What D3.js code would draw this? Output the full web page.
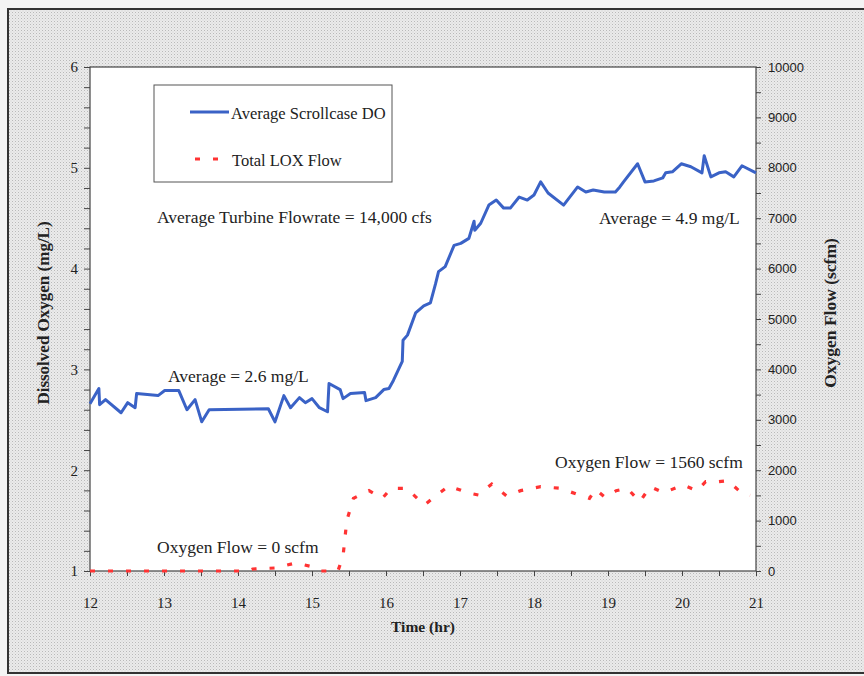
<!DOCTYPE html>
<html><head><meta charset="utf-8">
<script src="https://cdn.jsdelivr.net/npm/d3@7/dist/d3.min.js"></script>
<style>body{margin:0;background:#fff;}svg{display:block;}</style>
</head><body>
<script>
// ---- data ----
const doTime = [12.00,12.12,12.13,12.21,12.42,12.51,12.61,12.63,12.92,13.01,13.20,13.31,13.42,13.51,13.61,14.41,14.50,14.62,14.71,14.83,14.91,15.00,15.10,15.21,15.23,15.38,15.42,15.52,15.71,15.73,15.86,15.97,16.04,16.10,16.22,16.23,16.29,16.40,16.51,16.60,16.67,16.71,16.80,16.92,17.01,17.12,17.19,17.20,17.28,17.39,17.49,17.59,17.68,17.80,17.91,18.00,18.09,18.19,18.40,18.59,18.70,18.80,18.95,19.10,19.16,19.21,19.40,19.50,19.62,19.74,19.78,19.87,19.99,20.12,20.27,20.30,20.39,20.50,20.59,20.70,20.81,21.00];
const doValue = [2.66,2.81,2.65,2.70,2.57,2.67,2.62,2.76,2.74,2.79,2.79,2.60,2.70,2.48,2.60,2.61,2.48,2.74,2.62,2.72,2.67,2.71,2.62,2.58,2.86,2.80,2.71,2.76,2.77,2.69,2.72,2.80,2.81,2.89,3.08,3.29,3.34,3.56,3.63,3.66,3.85,3.97,4.02,4.23,4.25,4.30,4.47,4.38,4.45,4.63,4.68,4.60,4.60,4.71,4.68,4.73,4.86,4.75,4.63,4.81,4.76,4.78,4.76,4.76,4.81,4.86,5.04,4.86,4.87,4.90,4.95,4.96,5.04,5.01,4.95,5.12,4.91,4.95,4.96,4.91,5.02,4.95];

const loxTime = [12.00,12.50,13.00,13.50,14.00,14.14,14.20,14.50,14.78,15.00,15.10,15.35,15.42,15.47,15.56,15.77,15.95,16.07,16.28,16.34,16.52,16.67,16.85,17.10,17.25,17.43,17.63,17.82,18.09,18.36,18.57,18.75,18.83,18.96,19.11,19.26,19.43,19.57,19.75,20.02,20.20,20.32,20.50,20.62,20.80,20.92];
const loxValue = [0,0,0,0,0,0,40,60,160,85,0,0,300,1000,1442,1594,1442,1640,1640,1554,1310,1488,1687,1554,1508,1726,1488,1594,1673,1640,1528,1442,1620,1462,1594,1640,1375,1673,1554,1706,1594,1772,1772,1792,1554,1500];

const xTicks = [12,13,14,15,16,17,18,19,20,21];
const yLeftTicks = [1,2,3,4,5,6];
const yRightTicks = [0,1000,2000,3000,4000,5000,6000,7000,8000,9000,10000];

// ---- layout ----
const W = 864, H = 676;
const L = 90, R = 756, T = 67, B = 571;
const serif = "'Liberation Serif','Times New Roman',serif";

const svg = d3.select("body").append("svg").attr("width", W).attr("height", H);
const defs = svg.append("defs");
const pat = defs.append("pattern").attr("id","dots").attr("width",3).attr("height",3).attr("patternUnits","userSpaceOnUse");
pat.append("rect").attr("width",3).attr("height",3).attr("fill","#ebebeb");
pat.append("rect").attr("x",0).attr("y",0).attr("width",1).attr("height",1).attr("fill","#b9b9b9");
pat.append("rect").attr("x",1.5).attr("y",1.5).attr("width",1).attr("height",1).attr("fill","#d0d0d0");

svg.append("rect").attr("width",W).attr("height",H).attr("fill","#f4f4f4");
svg.append("rect").attr("x",8).attr("y",9).attr("width",W).attr("height",664).attr("fill","url(#dots)")
  .attr("stroke","#333").attr("stroke-width",2);

const x = d3.scaleLinear().domain([12,21]).range([L,R]);
const yL = d3.scaleLinear().domain([1,6]).range([B,T]);
const yR = d3.scaleLinear().domain([0,10000]).range([B,T]);

svg.append("rect").attr("x",L).attr("y",T).attr("width",R-L).attr("height",B-T)
  .attr("fill","#fff").attr("stroke","#444").attr("stroke-width",1.2);

// axes
function styleAxis(g){
  g.select(".domain").remove();
  g.selectAll("line").attr("stroke","#444");
  g.selectAll("text").attr("font-family",serif).attr("fill","#222");
}
const gx = svg.append("g").attr("transform",`translate(0,${B})`)
  .call(d3.axisBottom(x).tickValues(d3.range(12,21.01,0.5)).tickSize(5).tickFormat(d => Number.isInteger(d) ? d : ""));
styleAxis(gx);
gx.selectAll("text").attr("font-size",15).attr("dy","1.9em");

const gl = svg.append("g").attr("transform",`translate(${L},0)`)
  .call(d3.axisLeft(yL).tickValues(d3.range(1,6.01,0.2)).tickSize(6)
    .tickFormat(d => yLeftTicks.some(t => Math.abs(t-d)<1e-6) ? Math.round(d) : ""));
styleAxis(gl);
gl.selectAll("text").attr("font-size",15).attr("dx","-0.2em");

const gr = svg.append("g").attr("transform",`translate(${R},0)`)
  .call(d3.axisRight(yR).tickValues(d3.range(0,10001,500)).tickSize(5)
    .tickFormat(d => yRightTicks.includes(d) ? d : ""));
styleAxis(gr);
gr.selectAll("text").attr("font-size",13).attr("font-family","'Liberation Sans Narrow','Liberation Sans',sans-serif").attr("dx","0.3em");

// lines
const blue = d3.line().x((d,i)=>x(doTime[i])).y(d=>yL(d));
svg.append("path").datum(doValue).attr("d",blue).attr("fill","none")
  .attr("stroke","#3a62c6").attr("stroke-width",3).attr("stroke-linejoin","round");

const red = d3.line().x((d,i)=>x(loxTime[i])).y(d=>yR(d));
svg.append("path").datum(loxValue).attr("d",red).attr("fill","none")
  .attr("stroke","#ff3333").attr("stroke-width",3.2).attr("stroke-dasharray","5,13");

// legend
svg.append("rect").attr("x",154).attr("y",85).attr("width",238).attr("height",97)
  .attr("fill","#fff").attr("stroke","#555").attr("stroke-width",1);
svg.append("line").attr("x1",190).attr("x2",229).attr("y1",112).attr("y2",112)
  .attr("stroke","#3a62c6").attr("stroke-width",3);
svg.append("line").attr("x1",195).attr("x2",219).attr("y1",159).attr("y2",159)
  .attr("stroke","#ff3333").attr("stroke-width",3).attr("stroke-dasharray","5,13");
const txt = (s,xx,yy,opt={}) => svg.append("text").attr("x",xx).attr("y",yy).text(s)
  .attr("font-family",serif).attr("font-size",opt.size||17.5).attr("fill","#222")
  .attr("text-anchor",opt.anchor||"start").attr("font-weight",opt.bold?"bold":"normal");
txt("Average Scrollcase DO",231,119,{size:16.5});
txt("Total LOX Flow",232,166,{size:16.5});

// annotations
txt("Average Turbine Flowrate = 14,000 cfs",157,223);
txt("Average = 2.6 mg/L",168,382);
txt("Average = 4.9 mg/L",599,224);
txt("Oxygen Flow = 1560 scfm",555,468);
txt("Oxygen Flow = 0 scfm",157,553);

// axis titles
txt("Time (hr)",(L+R)/2,632,{anchor:"middle",bold:true,size:15.5});
svg.append("text").attr("transform",`translate(49,${(T+B)/2-6}) rotate(-90)`).text("Dissolved Oxygen (mg/L)")
  .attr("font-family",serif).attr("font-size",17).attr("font-weight","bold").attr("text-anchor","middle").attr("fill","#222");
svg.append("text").attr("transform",`translate(836,${(T+B)/2-6}) rotate(-90)`).text("Oxygen Flow (scfm)")
  .attr("font-family",serif).attr("font-size",17.5).attr("font-weight","bold").attr("text-anchor","middle").attr("fill","#222");
</script>
</body></html>
